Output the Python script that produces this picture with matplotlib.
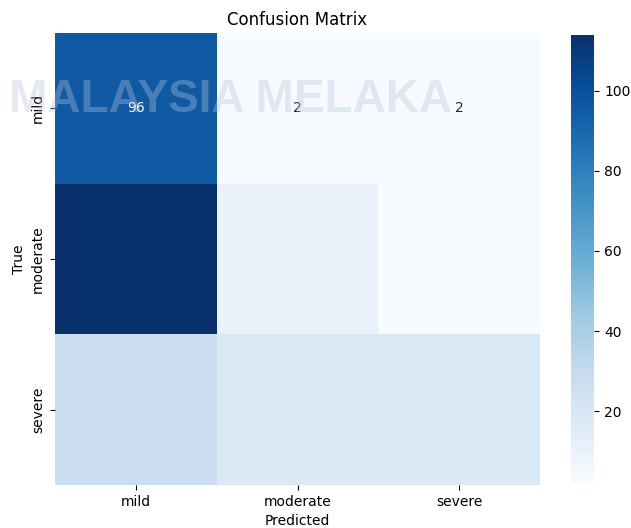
import numpy as np
import matplotlib
matplotlib.use("Agg")
import matplotlib.pyplot as plt
import seaborn as sns

# class labels and confusion matrix values (rows = true, cols = predicted)
classes = ["mild", "moderate", "severe"]
row_mild = [96, 2, 2]
row_moderate = [114, 10, 2]
row_severe = [27, 19, 19]

cm = np.array([row_mild, row_moderate, row_severe])

# only the first row carries annotations in the original
annot = np.full(cm.shape, "", dtype=object)
annot[0, :] = [str(v) for v in row_mild]

fig = plt.figure(figsize=(6.31, 5.28), dpi=100)
ax = fig.add_axes([0.087, 0.0814, 0.769, 0.856])
cax = fig.add_axes([0.905, 0.085, 0.037, 0.849])

sns.heatmap(cm, annot=annot, fmt="", cmap="Blues", ax=ax, cbar_ax=cax,
            xticklabels=classes, yticklabels=classes)
ax.set_title("Confusion Matrix")
ax.set_xlabel("Predicted")
ax.set_ylabel("True")
cax.tick_params(labelsize=10)

# faint watermark overlay seen on the reference
fig.text(0.366, 0.788, "MALAYSIA MELAKA", fontsize=33, family="Liberation Sans",
         fontweight="bold", color="#b8c2da", alpha=0.35, ha="center", va="baseline",
         zorder=10)

fig.savefig("out.png", dpi=100)
